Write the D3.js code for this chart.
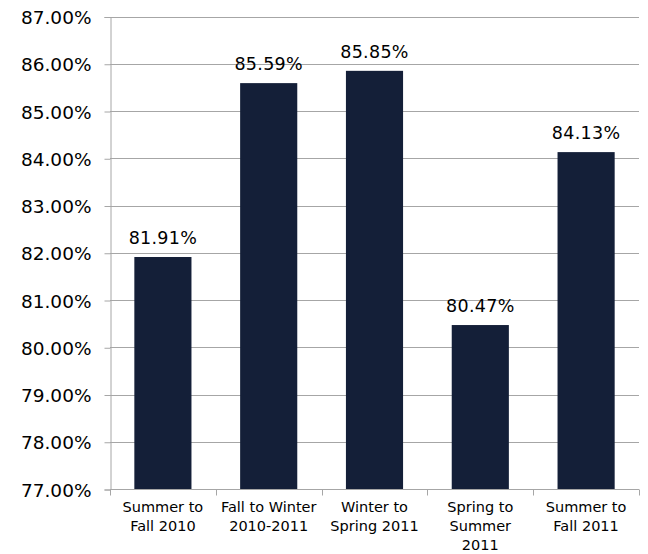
<!DOCTYPE html>
<html>
<head>
<meta charset="utf-8">
<script src="https://cdn.jsdelivr.net/npm/d3@7"></script>
<style>
  body { margin: 0; background: #fff; }
</style>
</head>
<body>
<svg id="chart"></svg>
<script>
const categories = [
  ["Summer to", "Fall 2010"],
  ["Fall to Winter", "2010-2011"],
  ["Winter to", "Spring 2011"],
  ["Spring to", "Summer", "2011"],
  ["Summer to", "Fall 2011"]
];
const values = [81.91, 85.59, 85.85, 80.47, 84.13];
const yTicks = [77, 78, 79, 80, 81, 82, 83, 84, 85, 86, 87];

const width = 648;
const height = 554;
const margin = { top: 16.5, right: 9, bottom: 65, left: 110 };

const svg = d3.select("#chart")
  .attr("width", width)
  .attr("height", height);

const x = d3.scaleBand()
  .domain(d3.range(categories.length))
  .range([margin.left, width - margin.right])
  .paddingInner(0.46)
  .paddingOuter(0.23);

const y = d3.scaleLinear()
  .domain([77, 87])
  .range([height - margin.bottom, margin.top]);

// gridlines
svg.append("g")
  .selectAll("line")
  .data(yTicks)
  .enter()
  .append("line")
  .attr("x1", margin.left)
  .attr("x2", width - margin.right)
  .attr("y1", d => Math.round(y(d)) + 0.5)
  .attr("y2", d => Math.round(y(d)) + 0.5)
  .attr("stroke", "#a6a6a6")
  .attr("stroke-width", 1);

// y axis
const yAxis = svg.append("g")
  .attr("transform", `translate(${margin.left + 0.5},0.5)`)
  .call(d3.axisLeft(y).tickValues(yTicks).tickSize(6).tickPadding(13)
    .tickFormat(d => d.toFixed(2) + "%"));
yAxis.select(".domain").attr("stroke", "#a6a6a6");
yAxis.selectAll(".tick line").attr("stroke", "#a6a6a6");
yAxis.selectAll("text")
  .attr("font-family", "'DejaVu Sans', Verdana, sans-serif")
  .attr("font-size", "18.5px")
  .attr("fill", "#000")
  .attr("dy", "0.36em");

// bars
svg.append("g")
  .selectAll("rect")
  .data(values)
  .enter()
  .append("rect")
  .attr("x", (d, i) => x(i))
  .attr("width", x.bandwidth())
  .attr("y", d => y(d))
  .attr("height", d => y(77) - y(d))
  .attr("fill", "#141f38");

// x axis line + ticks at band boundaries
const step = x.step();
const x0 = margin.left;
const baseY = Math.round(y(77)) + 0.5;
svg.append("line")
  .attr("x1", x0).attr("x2", width - margin.right)
  .attr("y1", baseY).attr("y2", baseY)
  .attr("stroke", "#a6a6a6");
svg.append("g")
  .selectAll("line")
  .data(d3.range(categories.length + 1))
  .enter()
  .append("line")
  .attr("x1", i => Math.round(x0 + i * step) + 0.5)
  .attr("x2", i => Math.round(x0 + i * step) + 0.5)
  .attr("y1", baseY)
  .attr("y2", baseY + 6)
  .attr("stroke", "#a6a6a6");

// value labels
svg.append("g")
  .selectAll("text")
  .data(values)
  .enter()
  .append("text")
  .attr("x", (d, i) => x(i) + x.bandwidth() / 2)
  .attr("y", d => y(d) - 13)
  .attr("text-anchor", "middle")
  .attr("font-family", "'DejaVu Sans', Verdana, sans-serif")
  .attr("font-size", "17.5px")
  .attr("letter-spacing", "0.3px")
  .attr("fill", "#000")
  .text(d => d.toFixed(2) + "%");

// category labels
const catG = svg.append("g")
  .selectAll("text")
  .data(categories)
  .enter()
  .append("text")
  .attr("x", (d, i) => x(i) + x.bandwidth() / 2)
  .attr("y", baseY + 22)
  .attr("text-anchor", "middle")
  .attr("font-family", "'DejaVu Sans', Tahoma, sans-serif")
  .attr("font-size", "14.5px")
  .attr("fill", "#000");
catG.each(function(lines, i) {
  const t = d3.select(this);
  lines.forEach((ln, j) => {
    t.append("tspan")
      .attr("x", x(i) + x.bandwidth() / 2)
      .attr("dy", j === 0 ? 0 : 19)
      .text(ln);
  });
});
</script>
</body>
</html>
